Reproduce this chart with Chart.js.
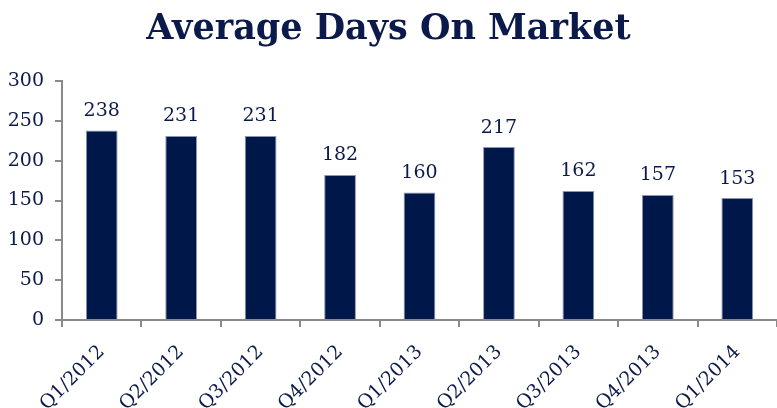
<!DOCTYPE html>
<html>
<head>
<meta charset="utf-8">
<script src="https://cdn.jsdelivr.net/npm/chart.js@4/dist/chart.umd.min.js"></script>
<style>
  html, body { margin: 0; padding: 0; background: #fff; }
  #wrap { width: 777px; height: 408px; position: relative; }
</style>
</head>
<body>
<div id="wrap"><canvas id="barChart"></canvas></div>
<script>
const quarters = ['Q1/2012', 'Q2/2012', 'Q3/2012', 'Q4/2012', 'Q1/2013', 'Q2/2013', 'Q3/2013', 'Q4/2013', 'Q1/2014'];
const avgDays = [238, 231, 231, 182, 160, 217, 162, 157, 153];

const navy = '#0b1a4a';
const axisGray = '#8a8a8a';
const serif = "'DejaVu Serif', 'Liberation Serif', serif";

// value labels above each bar
const barLabels = {
  id: 'barLabels',
  afterDatasetsDraw(chart) {
    const ctx = chart.ctx;
    const meta = chart.getDatasetMeta(0);
    ctx.save();
    ctx.fillStyle = navy;
    ctx.font = "19px " + serif;
    ctx.textAlign = 'center';
    ctx.textBaseline = 'bottom';
    meta.data.forEach((bar, i) => {
      ctx.fillText(avgDays[i], bar.x, bar.y - 10);
    });
    ctx.restore();
  }
};

new Chart(document.getElementById('barChart'), {
  type: 'bar',
  data: {
    labels: quarters,
    datasets: [{
      data: avgDays,
      backgroundColor: '#00174a',
      borderColor: '#8d95b0',
      borderWidth: 1,
      categoryPercentage: 1,
      barPercentage: 0.4,
    }],
  },
  options: {
    responsive: true,
    maintainAspectRatio: false,
    animation: false,
    plugins: {
      legend: { display: false },
      tooltip: { enabled: false },
      title: {
        display: true,
        text: 'Average Days On Market',
        color: navy,
        font: { family: serif, size: 35, weight: 'bold' },
        padding: { top: 9, bottom: 30 },
      },
    },
    scales: {
      x: {
        offset: true,
        grid: {
          offset: true,
          drawOnChartArea: false,
          color: axisGray,
          lineWidth: 2,
          tickLength: 7,
        },
        border: { color: axisGray, width: 2 },
        ticks: {
          color: navy,
          font: { family: serif, size: 19 },
          minRotation: 45,
          maxRotation: 45,
          padding: 14,
        },
        afterFit(scale) { scale.height = 88; },
      },
      y: {
        min: 0,
        max: 300,
        ticks: {
          stepSize: 50,
          color: navy,
          font: { family: serif, size: 19 },
          padding: 11,
        },
        grid: {
          drawOnChartArea: false,
          color: axisGray,
          lineWidth: 2,
          tickLength: 7,
        },
        border: { color: axisGray, width: 2 },
        afterFit(scale) { scale.width = 62; },
      },
    },
  },
  plugins: [barLabels],
});
</script>
</body>
</html>
